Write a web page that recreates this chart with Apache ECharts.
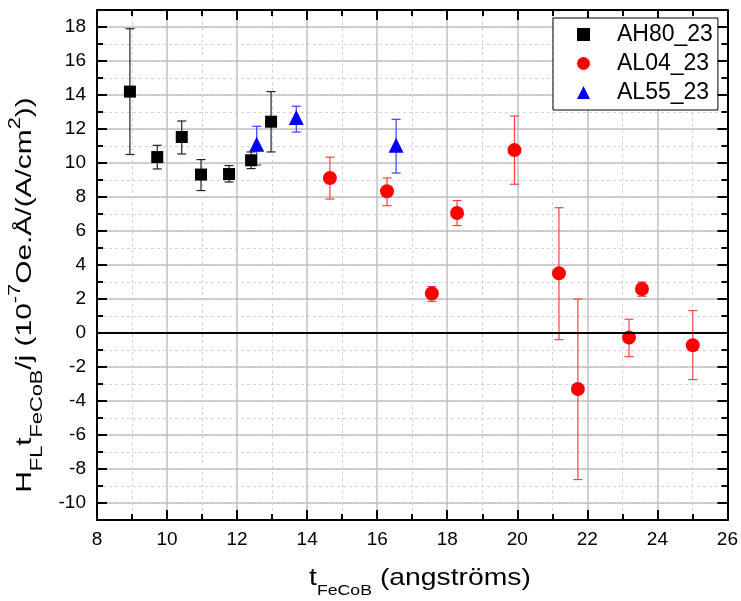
<!DOCTYPE html>
<html>
<head>
<meta charset="utf-8">
<script src="https://cdn.jsdelivr.net/npm/echarts@6/dist/echarts.min.js"></script>
<style>html,body{margin:0;padding:0;background:#fff}#c{width:741px;height:601px}</style>
</head>
<body>
<div id="c"></div>
<script>
// ---- data ----
const ah80X  = [8.94, 9.72, 10.42, 10.97, 11.77, 12.40, 12.97];
const ah80Y  = [14.2, 10.35, 11.53, 9.32, 9.35, 10.16, 12.43];
const ah80Lo = [10.5, 9.65, 10.53, 8.38, 8.88, 9.67, 10.65];
const ah80Hi = [17.9, 11.04, 12.47, 10.2, 9.85, 10.65, 14.2];

const al04X  = [14.65, 16.28, 17.56, 18.28, 19.92, 21.19, 21.73, 23.19, 23.56, 25.01];
const al04Y  = [9.12, 8.34, 2.32, 7.06, 10.76, 3.51, -3.29, -0.27, 2.59, -0.72];
const al04Lo = [7.88, 7.49, 1.86, 6.32, 8.75, -0.39, -8.62, -1.39, 2.16, -2.74];
const al04Hi = [10.34, 9.12, 2.73, 7.79, 12.76, 7.37, 2.0, 0.81, 3.0, 1.32];

const al55X  = [12.56, 13.69, 16.54];
const al55Y  = [11.1, 12.67, 11.04];
const al55Lo = [9.88, 11.82, 9.41];
const al55Hi = [12.16, 13.34, 12.57];

const seriesNames = ['AH80_23', 'AL04_23', 'AL55_23'];
const xTickLabels = [8, 10, 12, 14, 16, 18, 20, 22, 24, 26];
const yTickLabels = [-10, -8, -6, -4, -2, 0, 2, 4, 6, 8, 10, 12, 14, 16, 18];

// ---- chart ----
const FF = 'Liberation Sans, Arial, sans-serif';
const chart = echarts.init(document.getElementById('c'), null, {renderer: 'canvas'});

function pts(xs, ys) { return xs.map((x, i) => [x, ys[i]]); }
function bars(xs, lo, hi) { return xs.map((x, i) => [x, lo[i], hi[i]]); }
function errSeries(name, xs, lo, hi, color) {
  return {
    type: 'custom', name: name, xAxisIndex: 0, yAxisIndex: 0, silent: true,
    encode: {x: 0, y: [1, 2]},
    data: bars(xs, lo, hi),
    renderItem: function (params, api) {
      const a = api.coord([api.value(0), api.value(1)]);
      const b = api.coord([api.value(0), api.value(2)]);
      const w = 4.5;
      const st = {stroke: color, lineWidth: 1.2};
      return {type: 'group', children: [
        {type: 'line', shape: {x1: a[0], y1: a[1], x2: b[0], y2: b[1]}, style: st},
        {type: 'line', shape: {x1: a[0] - w, y1: a[1], x2: a[0] + w, y2: a[1]}, style: st},
        {type: 'line', shape: {x1: b[0] - w, y1: b[1], x2: b[0] + w, y2: b[1]}, style: st}
      ]};
    }
  };
}

const yBase = {type: 'value', min: -11, max: 19, interval: 1};
const tickStyle = {color: '#000', width: 2};

const option = {
  animation: false,
  backgroundColor: '#fff',
  grid: {left: 97, right: 12, top: 10, bottom: 81},
  legend: {
    orient: 'vertical', left: 553, top: 18,
    data: seriesNames,
    itemWidth: 13, itemHeight: 13, itemGap: 6,
    padding: [5, 5, 6, 24],
    borderColor: '#000', borderWidth: 1, backgroundColor: '#fff',
    textStyle: {fontSize: 23, fontFamily: FF, color: '#000', lineHeight: 23, padding: [0, 0, 0, 22]}
  },
  xAxis: [
    {type: 'value', min: 8, max: 26, interval: 2, position: 'bottom',
      axisLine: {show: true, onZero: false, lineStyle: {color: '#000', width: 2}},
      axisTick: {show: true, inside: true, length: 10, lineStyle: tickStyle},
      minorTick: {show: true, splitNumber: 2, length: 6, lineStyle: tickStyle},
      axisLabel: {fontSize: 19, fontFamily: FF, color: '#000', margin: 10},
      splitLine: {show: true, lineStyle: {color: '#c0c0c0', width: 1.5}},
      minorSplitLine: {show: true, lineStyle: {color: '#d4d4d4', width: 1, type: [3, 3]}}
    },
    {type: 'value', min: 8, max: 26, interval: 2, position: 'top',
      axisLine: {show: true, onZero: false, lineStyle: {color: '#000', width: 2}},
      axisTick: {show: true, inside: true, length: 10, lineStyle: tickStyle},
      minorTick: {show: true, splitNumber: 2, length: 6, lineStyle: tickStyle},
      axisLabel: {show: false}, splitLine: {show: false}
    }
  ],
  yAxis: [
    Object.assign({}, yBase, {position: 'left',
      axisLine: {show: true, onZero: false, lineStyle: {color: '#000', width: 2}},
      axisTick: {show: true, inside: true, length: 6, lineStyle: tickStyle},
      axisLabel: {fontSize: 19, fontFamily: FF, color: '#000', margin: 11,
        formatter: v => (yTickLabels.indexOf(v) >= 0 ? String(v) : '')},
      splitLine: {show: true, lineStyle: {color: '#d4d4d4', width: 1, type: [3, 3]}}
    }),
    Object.assign({}, yBase, {position: 'right',
      axisLine: {show: true, onZero: false, lineStyle: {color: '#000', width: 2}},
      axisTick: {show: true, inside: true, length: 6, lineStyle: tickStyle},
      axisLabel: {show: false},
      splitLine: {show: true, lineStyle: {color: ['rgba(0,0,0,0)', '#c0c0c0'], width: 1.5}}
    }),
    Object.assign({}, yBase, {position: 'left',
      axisLine: {show: false, onZero: false},
      axisTick: {show: true, inside: true, length: 10, lineStyle: tickStyle, customValues: yTickLabels},
      axisLabel: {show: false}, splitLine: {show: false}
    }),
    Object.assign({}, yBase, {position: 'right',
      axisLine: {show: false, onZero: false},
      axisTick: {show: true, inside: true, length: 10, lineStyle: tickStyle, customValues: yTickLabels},
      axisLabel: {show: false}, splitLine: {show: false}
    })
  ],
  graphic: [
    {type: 'text', x: 25, y: 295, rotation: Math.PI / 2, scaleX: 1.36, silent: true,
      style: {
        text: '{m|H}{sub|FL}{m|t}{sub|FeCoB}{m|/j (10}{sup|-7}{m|Oe.Å/(A/cm}{sup|2}{m|))}',
        align: 'center', verticalAlign: 'middle', textAlign: 'center', textVerticalAlign: 'middle',
        fill: '#000',
        rich: {
          m: {fontSize: 22, fontFamily: FF, color: '#000', lineHeight: 26},
          sub: {fontSize: 16, fontFamily: FF, color: '#000', lineHeight: 16, padding: [26, 0, 0, 0]},
          sup: {fontSize: 16, fontFamily: FF, color: '#000', lineHeight: 16, padding: [0, 0, 18, 0]}
        }
      }
    },
    {type: 'text', x: 420, y: 578, scaleX: 1.18, silent: true,
      style: {
        text: '{m|t}{sub|FeCoB}{m| (angströms)}',
        align: 'center', verticalAlign: 'middle', textAlign: 'center', textVerticalAlign: 'middle',
        fill: '#000',
        rich: {
          m: {fontSize: 24, fontFamily: FF, color: '#000', lineHeight: 28},
          sub: {fontSize: 15, fontFamily: FF, color: '#000', lineHeight: 16, padding: [26, 0, 0, 0]}
        }
      }
    }
  ],
  series: [
    errSeries('errAH80', ah80X, ah80Lo, ah80Hi, '#222222'),
    errSeries('errAL55', al55X, al55Lo, al55Hi, '#3c3cff'),
    errSeries('errAL04', al04X, al04Lo, al04Hi, '#ff4040'),
    {type: 'scatter', name: seriesNames[0], xAxisIndex: 0, yAxisIndex: 0,
      symbol: 'rect', symbolSize: 12, itemStyle: {color: '#000', opacity: 1},
      data: pts(ah80X, ah80Y),
      markLine: {silent: true, symbol: 'none', label: {show: false},
        lineStyle: {color: '#000', width: 2, type: 'solid'}, data: [{yAxis: 0}]}
    },
    {type: 'scatter', name: seriesNames[2], xAxisIndex: 0, yAxisIndex: 0,
      symbol: 'triangle', symbolSize: 15, itemStyle: {color: '#0000ff', opacity: 1},
      data: pts(al55X, al55Y)
    },
    {type: 'scatter', name: seriesNames[1], xAxisIndex: 0, yAxisIndex: 0,
      symbol: 'circle', symbolSize: 14, itemStyle: {color: '#ff0000', opacity: 1},
      data: pts(al04X, al04Y)
    }
  ]
};
chart.setOption(option);
</script>
</body>
</html>
